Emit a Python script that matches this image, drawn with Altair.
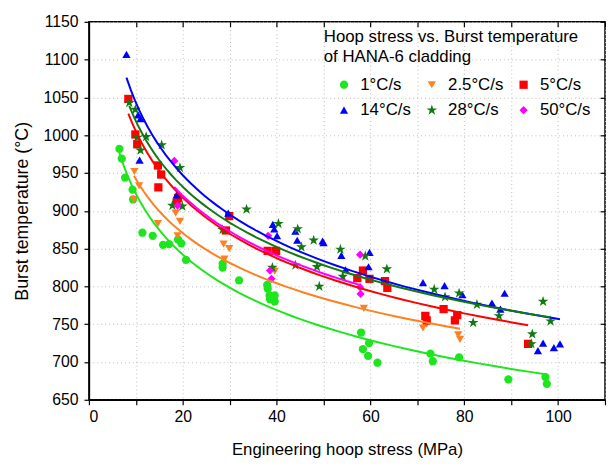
import altair as alt
import pandas as pd

rates = ["1°C/s", "2.5°C/s", "5°C/s", "14°C/s", "28°C/s", "50°C/s"]
colors = ["#1ee61e", "#ff8020", "#ff0000", "#0000ff", "#107a10", "#ff00ff"]
star = ("M0,-1.35L0.303,-0.417L1.284,-0.417L0.49,0.159L0.794,1.092L0,0.516"
        "L-0.794,1.092L-0.49,0.159L-1.284,-0.417L-0.303,-0.417Z")
shapes = ["circle", "triangle-down", "square", "triangle-up", star, "diamond"]

g_x = [6.5, 7.0, 7.7, 9.3, 9.4, 11.4, 13.6, 15.8, 17.1, 19.0, 19.7, 20.7, 28.5, 28.5, 32.0, 38.0,
       38.1, 38.5, 38.6, 39.6, 39.6, 58.0, 58.4, 59.7, 59.5, 61.5, 72.8, 73.3, 78.9, 89.4, 97.3, 97.6]
g_y = [982, 969, 944, 928, 915, 871, 867, 855, 856, 862, 857, 835, 830, 825, 808, 802,
       797, 788, 783, 788, 780, 739, 717, 725, 708, 699, 711, 701, 706, 677, 680, 671]

o_x = [9.7, 10.7, 9.6, 14.7, 18.5, 19.4, 18.9, 28.7, 29.9, 28.9, 39.6, 58.6, 71.2, 72.0, 78.7, 79.1]
o_y = [952, 933, 915, 883, 897, 886, 867, 856, 850, 836, 820, 771, 745, 750, 736, 730]

r_x = [8.4, 9.9, 10.3, 14.7, 15.4, 14.8, 18.7, 19.0, 29.9, 29.2, 38.1, 39.9, 58.4, 57.2, 59.8,
       63.1, 63.6, 71.7, 72.0, 75.6, 78.0, 78.5, 93.6]
r_y = [1048, 1001, 988, 960, 948, 931, 911, 917, 893, 874, 847, 847, 821, 811, 810,
       807, 798, 761, 755, 770, 755, 762, 724]

b_x = [8.0, 10.5, 11.0, 10.8, 18.7, 29.7, 39.2, 39.5, 40.1, 44.0, 44.4, 49.8, 50.0, 53.8, 54.7,
       59.8, 59.6, 71.2, 75.8, 79.6, 85.9, 87.7, 88.6, 96.8, 95.7, 99.1, 100.4]
b_y = [1107, 1027, 1022, 967, 921, 897, 882, 876, 867, 873, 861, 860, 858, 841, 822,
       845, 826, 805, 801, 789, 778, 770, 791, 725, 715, 719, 724]

d_x = [8.6, 9.9, 10.3, 11.0, 12.2, 15.5, 19.4, 17.8, 19.9, 33.6, 28.5, 40.4, 44.5, 45.3, 47.9,
       49.1, 48.6, 44.0, 39.1, 53.6, 54.1, 58.9, 63.5, 73.6, 75.9, 78.9, 82.7, 81.9, 87.4, 96.8,
       98.4, 94.5, 94.3]
d_y = [1043, 1034, 997, 980, 998, 987, 957, 907, 906, 902, 875, 883, 876, 852, 861,
       800, 826, 828, 825, 849, 813, 840, 823, 796, 786, 791, 776, 752, 761, 780,
       754, 737, 724]

m_x = [18.2, 18.9, 38.2, 38.6, 38.9, 57.8, 57.8, 57.9]
m_y = [966, 907, 867, 821, 810, 842, 799, 790]

series = [(g_x, g_y), (o_x, o_y), (r_x, r_y), (b_x, b_y), (d_x, d_y), (m_x, m_y)]
rows = []
for name, (xs, ys) in zip(rates, series):
    for xv, yv in zip(xs, ys):
        rows.append({"rate": name, "stress": xv, "temp": yv})
df = pd.DataFrame(rows)

FONT = "Liberation Sans"
x_scale = alt.Scale(domain=[0, 110], nice=False)
y_scale = alt.Scale(domain=[650, 1150], nice=False)
x_ticks = list(range(0, 111, 10))
y_ticks = list(range(650, 1151, 50))

legend = alt.Legend(
    title=["Hoop stress vs. Burst temperature", "of HANA-6 cladding"],
    orient="none", legendX=238, legendY=7, columns=3, direction="horizontal",
    titleFont=FONT, titleFontSize=17, titleFontWeight="normal", titleColor="black",
    titleLineHeight=21, titlePadding=10, titleLimit=600, labelLimit=200,
    labelFont=FONT, labelFontSize=17, labelColor="black", labelOffset=8,
    symbolSize=70, symbolOffset=12, symbolStrokeWidth=0,
    columnPadding=0, rowPadding=8, padding=0,
)

base = alt.Chart(df)

points = base.mark_point(filled=True, size=70, opacity=1).encode(
    x=alt.X("stress:Q", scale=x_scale, axis=alt.Axis(
        values=x_ticks, labelExpr="datum.value % 20 == 0 ? datum.label : ''",
        title="Engineering hoop stress (MPa)", grid=True, gridDash=[1, 3], gridColor="#bbbbbb",
        tickSize=5, tickColor="black", domainColor="black", domainWidth=1.5, tickWidth=1.2,
        labelFont=FONT, labelFontSize=16, labelColor="black", labelPadding=4,
        titleFont=FONT, titleFontSize=17, titleFontWeight="normal", titleColor="black",
        titlePadding=17)),
    y=alt.Y("temp:Q", scale=y_scale, axis=alt.Axis(
        values=y_ticks, format="d", title="Burst temperature (°C)", grid=True, gridDash=[1, 3],
        gridColor="#bbbbbb", tickSize=5, tickColor="black", domainColor="black",
        domainWidth=1.5, tickWidth=1.2,
        labelFont=FONT, labelFontSize=16, labelColor="black", labelPadding=6,
        titleFont=FONT, titleFontSize=18, titleFontWeight="normal", titleColor="black",
        titlePadding=12)),
    color=alt.Color("rate:N", scale=alt.Scale(domain=rates, range=colors), legend=legend),
    shape=alt.Shape("rate:N", scale=alt.Scale(domain=rates, range=shapes), legend=legend),
)

lines = base.transform_regression(
    "stress", "temp", groupby=["rate"], method="pow"
).mark_line(strokeWidth=2).encode(
    x=alt.X("stress:Q", scale=x_scale, axis=None),
    y=alt.Y("temp:Q", scale=y_scale, axis=None),
    color=alt.Color("rate:N", scale=alt.Scale(domain=rates, range=colors), legend=None),
)

frame_axes = base.mark_point(opacity=0).encode(
    x=alt.X("stress:Q", scale=x_scale, axis=alt.Axis(
        orient="top", values=x_ticks, labels=False, title=None, grid=False, domain=False,
        tickSize=5, offset=-5, tickColor="black", tickWidth=1.2)),
    y=alt.Y("temp:Q", scale=y_scale, axis=alt.Axis(
        orient="right", values=y_ticks, labels=False, title=None, grid=False, domain=False,
        tickSize=5, offset=-5, tickColor="black", tickWidth=1.2)),
)

chart = alt.layer(points, lines, frame_axes).resolve_axis(
    x="independent", y="independent"
).properties(
    width=523, height=383,
    autosize=alt.AutoSizeParams(type="none"),
    padding={"left": 82, "top": 11, "right": 1, "bottom": 58},
).configure_view(stroke="black", strokeWidth=1.5)

chart.save("out.html", embed_options={"renderer": "svg", "actions": False})
